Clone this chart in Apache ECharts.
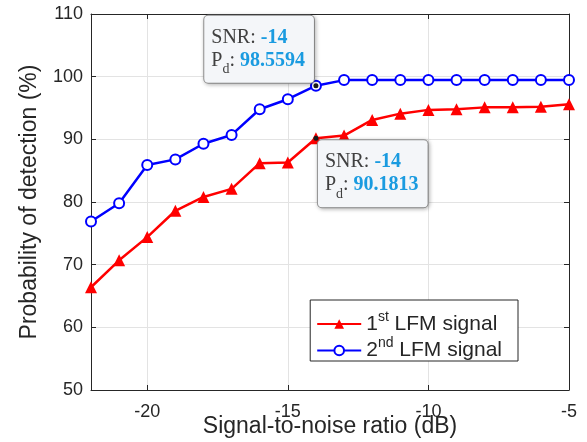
<!DOCTYPE html>
<html><head><meta charset="utf-8">
<script src="https://cdn.jsdelivr.net/npm/echarts@6/dist/echarts.min.js"></script>
<style>html,body{margin:0;padding:0;background:#fff}#c{width:587px;height:442px}</style>
</head><body><div id="c"></div>
<script>
const snr = [-22,-21,-20,-19,-18,-17,-16,-15,-14,-13,-12,-11,-10,-9,-8,-7,-6,-5];
const pd1 = [66.4,70.7,74.4,78.6,80.8,82.1,86.2,86.3,90.1813,90.6,93.1,94.1,94.7,94.8,95.1,95.1,95.2,95.6];
const pd2 = [76.9,79.8,85.9,86.8,89.3,90.7,94.8,96.4,98.5594,99.45,99.45,99.45,99.45,99.45,99.45,99.45,99.45,99.45];
const xTicks = [-20,-15,-10,-5];
const yTicks = [50,60,70,80,90,100,110];
const names = ['1st LFM signal','2nd LFM signal'];
const tipX = -14;

const chart = echarts.init(document.getElementById('c'));
const tipRich = {
  k:{fontFamily:'Liberation Serif',fontSize:20,color:'#404040',align:'left',lineHeight:23,verticalAlign:'top'},
  v:{fontFamily:'Liberation Serif',fontSize:20,color:'#1a9be0',fontWeight:'bold',align:'left',lineHeight:23,verticalAlign:'top'},
  sub:{fontFamily:'Liberation Serif',fontSize:14,color:'#404040',align:'left',verticalAlign:'top',lineHeight:14,padding:[12,0,0,0]}
};
function tip(v, above){
  return {
    data:[{coord:[tipX,v]}],
    symbol:'circle',symbolSize:5,
    itemStyle:{color:'#1a1a1a',borderWidth:0},
    label:{show:true,
      position: above?[0.5,-0.5]:[4.5,4.5],
      align: above?'right':'left',
      verticalAlign: above?'bottom':'top',
      formatter:'{k|SNR: }{v|'+tipX+'}\n{k|P}{sub|d}{k|: }{v|'+v+'}',
      rich:tipRich,
      backgroundColor:'#f4f6f9',borderColor:'#9a9a9a',borderWidth:1,borderRadius:4,
      padding:[12,9,9,7],
      shadowColor:'rgba(0,0,0,0.25)',shadowBlur:4,shadowOffsetX:1,shadowOffsetY:1
    },
    silent:true
  };
}
const axisLine = {show:true,lineStyle:{color:'#262626',width:1}};
chart.setOption({
  animation:false,
  grid:{left:91,right:18,top:14,bottom:52,containLabel:false,outerBoundsMode:'none'},
  legend:{
    right:69,top:300,orient:'vertical',
    backgroundColor:'#fff',borderColor:'#262626',borderWidth:1,borderRadius:0,
    padding:[10,16,0,6],itemGap:2,itemWidth:44,itemHeight:12,
    formatter:function(n){
      const i = names.indexOf(n);
      return i===0 ? '{t|1}{s|st}{t| LFM signal}' : '{t|2}{s|nd}{t| LFM signal}';
    },
    textStyle:{rich:{
      t:{fontFamily:'Liberation Sans',fontSize:21,color:'#262626',lineHeight:28,verticalAlign:'middle'},
      s:{fontFamily:'Liberation Sans',fontSize:14,color:'#262626',lineHeight:14,verticalAlign:'top'}
    }},
    data:names
  },
  xAxis:[{
    type:'value',min:-22,max:-5,
    name:'Signal-to-noise ratio (dB)',nameLocation:'middle',nameGap:25,nameMoveOverlap:false,
    nameTextStyle:{fontFamily:'Liberation Sans',fontSize:23,color:'#262626'},
    axisLine:axisLine,
    axisTick:{show:true,inside:true,length:5,customValues:xTicks,lineStyle:{color:'#262626'}},
    axisLabel:{customValues:xTicks,fontFamily:'Liberation Sans',fontSize:18,color:'#262626',margin:13},
    splitLine:{show:true,lineStyle:{color:'#e3e3e3',width:1}}
  },{
    type:'value',min:-22,max:-5,position:'top',
    axisLine:axisLine,
    axisTick:{show:true,inside:true,length:5,customValues:xTicks,lineStyle:{color:'#262626'}},
    axisLabel:{show:false},splitLine:{show:false}
  }],
  yAxis:[{
    type:'value',min:50,max:110,interval:10,
    name:'Probability of detection (%)',nameLocation:'middle',nameGap:50,nameMoveOverlap:false,
    nameTextStyle:{fontFamily:'Liberation Sans',fontSize:23,color:'#262626'},
    axisLine:axisLine,
    axisTick:{show:true,inside:true,length:5,lineStyle:{color:'#262626'}},
    axisLabel:{fontFamily:'Liberation Sans',fontSize:18,color:'#262626',margin:8},
    splitLine:{show:true,lineStyle:{color:'#e3e3e3',width:1}}
  },{
    type:'value',min:50,max:110,interval:10,position:'right',
    axisLine:axisLine,
    axisTick:{show:true,inside:true,length:5,lineStyle:{color:'#262626'}},
    axisLabel:{show:false},splitLine:{show:false}
  }],
  series:[{
    name:names[0],type:'line',
    data:snr.map((x,i)=>[x,pd1[i]]),
    lineStyle:{color:'#ff0000',width:2.5},
    itemStyle:{color:'#ff0000'},
    symbol:'triangle',symbolSize:12,
    markPoint:tip(pd1[snr.indexOf(tipX)],false),
    z:3
  },{
    name:names[1],type:'line',
    data:snr.map((x,i)=>[x,pd2[i]]),
    lineStyle:{color:'#0000ff',width:2.5},
    itemStyle:{color:'#fff',borderColor:'#0000ff',borderWidth:2},
    symbol:'circle',symbolSize:10,
    markPoint:tip(pd2[snr.indexOf(tipX)],true),
    z:3
  }]
});
</script></body></html>
